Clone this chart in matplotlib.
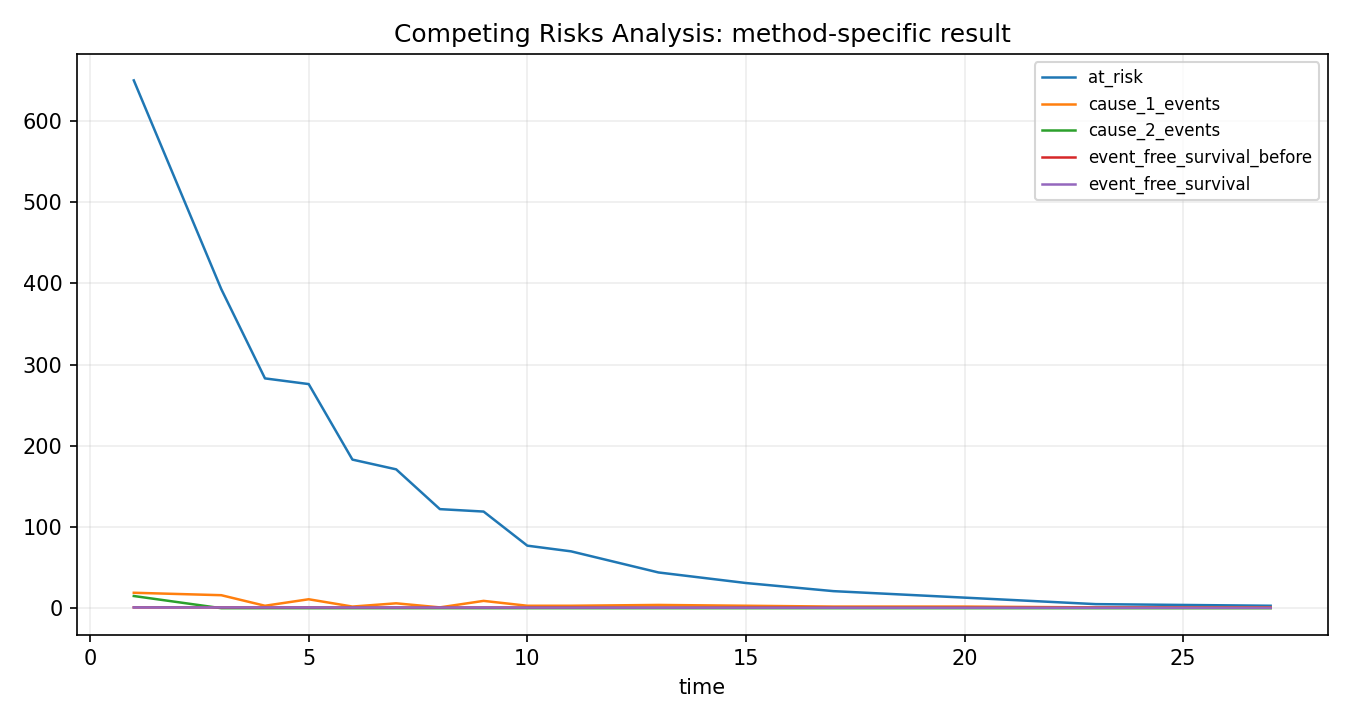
import matplotlib
matplotlib.use("Agg")
import matplotlib.pyplot as plt

time = [1, 3, 4, 5, 6, 7, 8, 9, 10, 11, 13, 15, 17, 20, 23, 25, 27]
at_risk = [650, 393, 283, 276, 183, 171, 122, 119, 77, 70, 44, 31, 21, 13, 5, 4, 3]
cause_1_events = [19, 16, 3, 11, 2, 6, 1, 9, 3, 3, 4, 3, 2, 2, 1, 1, 1]
cause_2_events = [15, 0, 0, 0, 0, 0, 0, 0, 0, 0, 0, 0, 0, 0, 0, 0, 0]
event_free_survival_before = [1.0, 0.95, 0.91, 0.90, 0.86, 0.85, 0.82, 0.81, 0.76, 0.74, 0.70, 0.66, 0.62, 0.58, 0.52, 0.50, 0.48]
event_free_survival = [0.95, 0.91, 0.90, 0.86, 0.85, 0.82, 0.81, 0.76, 0.74, 0.70, 0.66, 0.62, 0.58, 0.52, 0.50, 0.48, 0.45]

series = [
    ("at_risk", at_risk),
    ("cause_1_events", cause_1_events),
    ("cause_2_events", cause_2_events),
    ("event_free_survival_before", event_free_survival_before),
    ("event_free_survival", event_free_survival),
]

fig, ax = plt.subplots(figsize=(9, 4.8), dpi=150)
for name, vals in series:
    ax.plot(time, vals, label=name, linewidth=1.2)

ax.set_title("Competing Risks Analysis: method-specific result", fontsize=12)
ax.set_xlabel("time", fontsize=10)
ax.grid(True, alpha=0.22)
ax.legend(fontsize=8, loc="upper right")
fig.tight_layout()
fig.savefig("out.png", dpi=150)
